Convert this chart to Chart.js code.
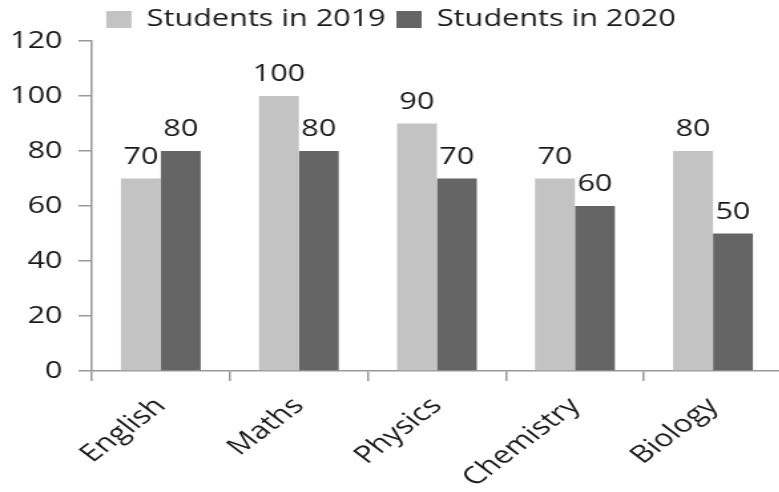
<!DOCTYPE html>
<html>
<head>
<meta charset="utf-8">
<script src="https://cdn.jsdelivr.net/npm/chart.js@4.4.0/dist/chart.umd.min.js"></script>
<style>
html,body{margin:0;padding:0;background:#fff;overflow:hidden;}
#wrap{width:590px;height:492px;transform:scaleX(1.33);transform-origin:0 0;}
</style>
</head>
<body>
<div id="wrap"><canvas id="c"></canvas></div>
<script>
const categories = ['English', 'Maths', 'Physics', 'Chemistry', 'Biology'];
const students2019 = [70, 100, 90, 70, 80];
const students2020 = [80, 80, 70, 60, 50];
const seriesNames = ['Students in 2019', 'Students in 2020'];
const yTicks = [0, 20, 40, 60, 80, 100, 120];

const FONT = '"Open Sans", sans-serif';
const TEXT = '#1a1a1a';
const AXIS = '#999999';

const valueLabels = {
  id: 'valueLabels',
  afterDatasetsDraw(chart) {
    const ctx = chart.ctx;
    ctx.save();
    ctx.font = '23px ' + FONT;
    ctx.fillStyle = TEXT;
    ctx.textAlign = 'center';
    ctx.textBaseline = 'alphabetic';
    chart.data.datasets.forEach((ds, i) => {
      chart.getDatasetMeta(i).data.forEach((bar, j) => {
        ctx.fillText(String(ds.data[j]), bar.x, bar.y - 15);
      });
    });
    ctx.restore();
  }
};

new Chart(document.getElementById('c'), {
  type: 'bar',
  data: {
    labels: categories,
    datasets: [
      { label: seriesNames[0], data: students2019, backgroundColor: '#c3c3c3', borderWidth: 0 },
      { label: seriesNames[1], data: students2020, backgroundColor: '#656565', borderWidth: 0 }
    ]
  },
  options: {
    responsive: true,
    maintainAspectRatio: false,
    animation: false,
    layout: { padding: { left: 0, right: 2, top: 0, bottom: 0 } },
    datasets: { bar: { categoryPercentage: 0.578, barPercentage: 1.0 } },
    plugins: {
      legend: {
        position: 'top',
        labels: {
          boxWidth: 19,
          boxHeight: 17,
          padding: 8,
          color: TEXT,
          font: { family: FONT, size: 23 }
        }
      },
      tooltip: { enabled: false }
    },
    scales: {
      x: {
        grid: { display: true, drawOnChartArea: false, offset: true, tickLength: 10, color: AXIS, lineWidth: 1.5 },
        border: { display: true, color: AXIS, width: 1.5 },
        ticks: { color: TEXT, font: { family: FONT, size: 24 }, minRotation: 45, maxRotation: 45, padding: 11 },
        afterFit(s) { s.height = 121; }
      },
      y: {
        min: 0,
        max: 120,
        grid: { display: true, drawOnChartArea: false, tickLength: 10, color: AXIS, lineWidth: 1.5 },
        border: { display: true, color: AXIS, width: 1.5 },
        ticks: {
          stepSize: 20,
          color: TEXT,
          padding: 12,
          font: { family: FONT, size: 23 },
          callback: (v) => yTicks.includes(v) ? String(v) : ''
        },
        afterFit(s) { s.width = 69; }
      }
    }
  },
  plugins: [valueLabels]
});
</script>
</body>
</html>
